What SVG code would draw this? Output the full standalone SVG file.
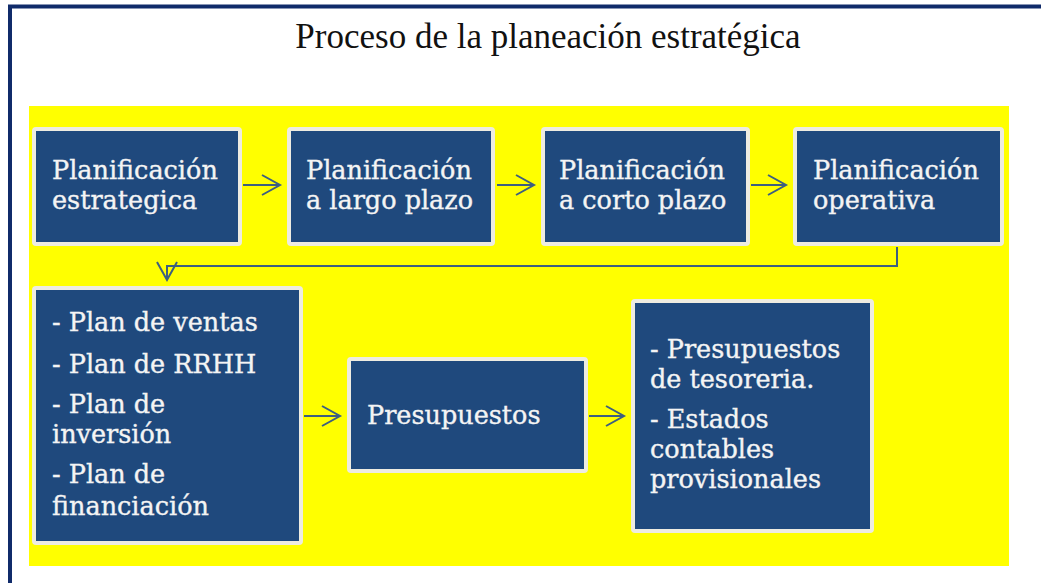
<svg xmlns="http://www.w3.org/2000/svg" width="1041" height="583" viewBox="0 0 1041 583">
<defs>
<style>
.frame{fill:none;stroke:#102b6a;stroke-width:4}
.box{fill:#1f497d;stroke:#eeece1;stroke-width:4}
.t{font-family:"DejaVu Serif","Liberation Serif",serif;font-size:25.5px;fill:#f4f4f4;stroke:#f4f4f4;stroke-width:0.35}
.title{font-family:"Liberation Serif","Times New Roman",serif;font-size:35px;fill:#111}
.con{fill:none;stroke:#3d5f80;stroke-width:2}
</style>
<marker id="ah" markerUnits="userSpaceOnUse" markerWidth="22" markerHeight="24" refX="19" refY="11" orient="auto">
<path d="M1,1 L19,11 L1,21" fill="none" stroke="#3d5f80" stroke-width="2"/>
</marker>
</defs>
<rect width="1041" height="583" fill="#ffffff"/>
<path class="frame" d="M10,583 L10,6.5 L1041,6.5"/>
<text class="title" x="548" y="48" text-anchor="middle">Proceso de la planeación estratégica</text>
<rect x="29" y="106" width="980" height="460" fill="#ffff00"/>
<g id="connectors">
<path class="con" d="M243,185 L280,185" marker-end="url(#ah)"/>
<path class="con" d="M497,185 L534,185" marker-end="url(#ah)"/>
<path class="con" d="M751,185 L786,185" marker-end="url(#ah)"/>
<path class="con" d="M897,247 L897,266 L167,266 L167,280" marker-end="url(#ah)"/>
<path class="con" d="M304,416 L340,416" marker-end="url(#ah)"/>
<path class="con" d="M589,416 L624,416" marker-end="url(#ah)"/>
</g>
<g id="n1"><rect class="box" x="34" y="129" width="206" height="115" rx="2"/>
<text class="t" x="52" y="179">Planificación</text><text class="t" x="52" y="209">estrategica</text></g>
<g id="n2"><rect class="box" x="289" y="129" width="204" height="115" rx="2"/>
<text class="t" x="306" y="179">Planificación</text><text class="t" x="306" y="209">a largo plazo</text></g>
<g id="n3"><rect class="box" x="543" y="129" width="205" height="115" rx="2"/>
<text class="t" x="559" y="179">Planificación</text><text class="t" x="559" y="209">a corto plazo</text></g>
<g id="n4"><rect class="box" x="795" y="129" width="207" height="115" rx="2"/>
<text class="t" x="813" y="179">Planificación</text><text class="t" x="813" y="209">operativa</text></g>
<g id="n5"><rect class="box" x="34" y="288" width="267" height="255" rx="2"/>
<text class="t" x="52" y="331">- Plan de ventas</text>
<text class="t" x="52" y="373">- Plan de RRHH</text>
<text class="t" x="52" y="413">- Plan de</text>
<text class="t" x="52" y="443">inversión</text>
<text class="t" x="52" y="483">- Plan de</text>
<text class="t" x="52" y="515">financiación</text></g>
<g id="n6"><rect class="box" x="349" y="359" width="237" height="112" rx="2"/>
<text class="t" x="367" y="424">Presupuestos</text></g>
<g id="n7"><rect class="box" x="633" y="301" width="239" height="230" rx="2"/>
<text class="t" x="650" y="358">- Presupuestos</text>
<text class="t" x="650" y="388">de tesoreria.</text>
<text class="t" x="650" y="428">- Estados</text>
<text class="t" x="650" y="458">contables</text>
<text class="t" x="650" y="488">provisionales</text></g>
</svg>
